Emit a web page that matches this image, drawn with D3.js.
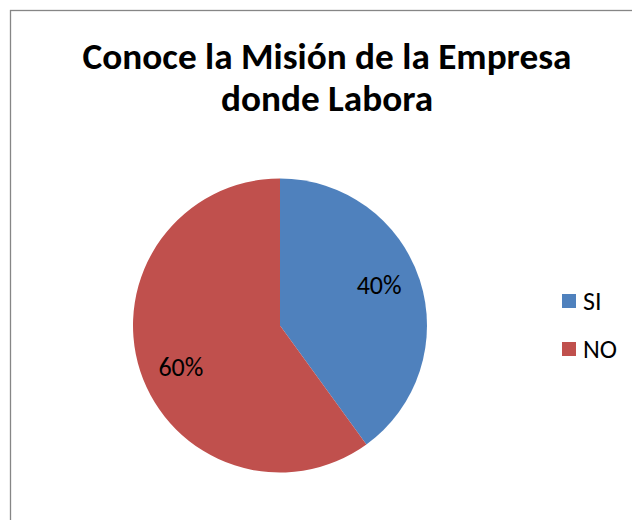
<!DOCTYPE html>
<html><head><meta charset="utf-8">
<script src="https://cdn.jsdelivr.net/npm/d3@7"></script>
<style>html,body{margin:0;padding:0;background:#fff;}svg{display:block;}</style>
</head><body>
<svg id="c" width="632" height="520"></svg>
<script>
const categories = ["SI", "NO"];
const values = [40, 60];
const labels = ["40%", "60%"];
const colors = ["#4F81BD", "#C0504D"];
const titleLines = ["Conoce la Misión de la Empresa", "donde Labora"];

const svg = d3.select("#c");
const font = "Carlito, Calibri, 'Liberation Sans', Arial, sans-serif";

svg.append("rect").attr("x", 10.5).attr("y", 10.5).attr("width", 700).attr("height", 600)
  .attr("fill", "#fff").attr("stroke", "#868686").attr("stroke-width", 1.3);

const t = svg.append("g");
titleLines.forEach((line, i) => {
  t.append("text").attr("x", 327).attr("y", 69 + i * 42)
    .attr("text-anchor", "middle").attr("font-family", font)
    .attr("font-weight", "bold").attr("font-size", 30).attr("fill", "#000").text(line);
});
const first = t.select("text").node();
const w = first.getComputedTextLength();
t.selectAll("text").attr("font-size", 30 * 489 / w);

const cx = 280, cy = 325.5, r = 147;
const pie = d3.pie().sort(null).value(d => d)(values);
const arc = d3.arc().innerRadius(0).outerRadius(r);
const g = svg.append("g").attr("transform", `translate(${cx},${cy})`);
g.selectAll("path").data(pie).join("path").attr("d", arc)
  .attr("fill", (d, i) => colors[i]);

const lr = r * 0.73, shift = -4.5 * Math.PI / 180;
g.selectAll("text").data(pie).join("text")
  .attr("transform", d => {
    const a = (d.startAngle + d.endAngle) / 2 + shift;
    return `translate(${lr * Math.sin(a)},${-lr * Math.cos(a)})`;
  })
  .attr("text-anchor", "middle").attr("dy", "0.35em")
  .attr("font-family", font).attr("font-size", 26).attr("fill", "#000")
  .text((d, i) => labels[i]);

const leg = svg.append("g");
categories.forEach((c, i) => {
  leg.append("rect").attr("x", 562).attr("y", 294 + i * 48).attr("width", 14).attr("height", 14).attr("fill", colors[i]);
  leg.append("text").attr("x", 583).attr("y", 310 + i * 48).attr("font-family", font)
    .attr("font-size", 26).attr("fill", "#000").text(c);
});
</script>
</body></html>
